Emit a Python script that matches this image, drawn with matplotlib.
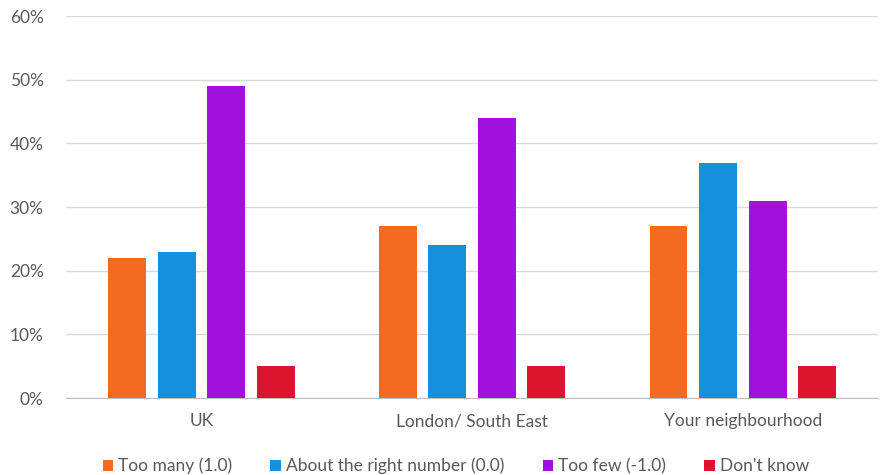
import numpy as np
from matplotlib import pyplot as plt

categories = ["UK", "London/ South East", "Your neighbourhood"]
series_names = ["Too many (1.0)", "About the right number (0.0)", "Too few (-1.0)", "Don't know"]
too_many = [22, 27, 27]
about_right = [23, 24, 37]
too_few = [49, 44, 31]
dont_know = [5, 5, 5]
colors = ["#F26B21", "#1490DC", "#A012DC", "#DC1430"]

plt.rcParams['font.family'] = ['Lato', 'DejaVu Sans']

fig = plt.figure(figsize=(8.8, 4.75), dpi=100)
ax = fig.add_axes([0.075, 0.162, 0.923, 0.804])

x = np.arange(len(categories))
step = 0.183
width = 0.14
for i, vals in enumerate([too_many, about_right, too_few, dont_know]):
    ax.bar(x + (i - 1.5) * step, vals, width, color=colors[i], label=series_names[i], zorder=3)

ax.set_xlim(-0.5, 2.5)
ax.set_ylim(0, 60)
ax.set_yticks(range(0, 61, 10))
ax.set_yticklabels([f"{v}%" for v in range(0, 61, 10)])
ax.set_xticks(x)
ax.set_xticklabels(categories)
ax.grid(axis='y', color='#d9d9d9', linewidth=1, zorder=0)
for s in ['top', 'right', 'left']:
    ax.spines[s].set_visible(False)
ax.spines['bottom'].set_color('#bfbfbf')
ax.tick_params(axis='both', length=0, labelsize=12.5, labelcolor='#595959')
ax.tick_params(axis='x', pad=11)
ax.tick_params(axis='y', pad=16)

ax.legend(loc='upper center', bbox_to_anchor=(0.48, -0.115), ncol=4, frameon=False,
          handlelength=0.6, handleheight=0.6, handletextpad=0.3, columnspacing=2.2,
          fontsize=12.5, labelcolor='#595959')

fig.savefig("out.png", dpi=100)
